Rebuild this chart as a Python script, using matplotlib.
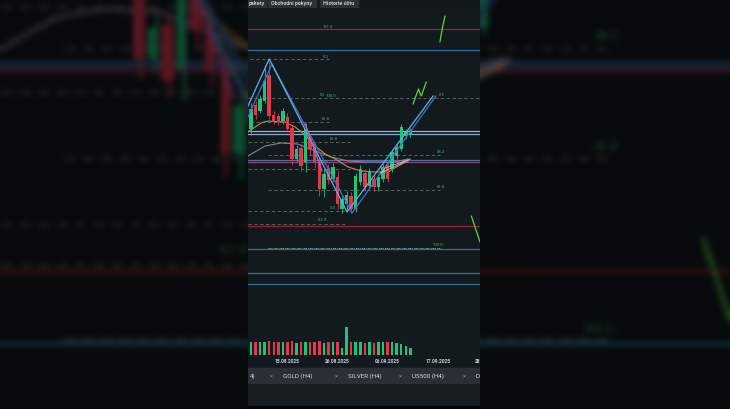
import numpy as np
import matplotlib
matplotlib.use("Agg")
import matplotlib.pyplot as plt
from matplotlib.patches import Rectangle
from matplotlib.transforms import blended_transform_factory

W, H = 730, 410
plt.rcParams['font.family'] = ['Roboto', 'DejaVu Sans']

# --- candles (4h bars) ---
opens  = [280, 304, 298, 308, 334, 294, 293, 288, 292, 281, 250, 261, 247, 270, 262, 247, 220, 241,
          230, 232, 200, 205, 213, 200, 227, 236, 223, 230, 222, 230, 244, 240, 253, 260, 273, 275]
closes = [300, 294, 310, 328, 293, 288, 287, 298, 280, 250, 260, 243, 280, 259, 247, 220, 235, 229,
          242, 205, 210, 214, 200, 233, 240, 222, 238, 222, 232, 242, 230, 257, 262, 282, 277, 279]
highs  = [306, 308, 314, 344, 348, 298, 296, 301, 296, 284, 264, 265, 286, 274, 266, 252, 240, 245,
          246, 238, 213, 218, 217, 236, 244, 240, 241, 234, 235, 245, 247, 260, 265, 285, 280, 281]
lows   = [274, 290, 296, 306, 290, 285, 284, 285, 277, 244, 247, 238, 237, 254, 242, 213, 212, 225,
          227, 200, 196, 198, 196, 197, 224, 218, 220, 218, 218, 227, 227, 237, 250, 258, 270, 272]
volumes = [14, 14, 14, 14, 15, 14, 14, 14, 14, 15, 13, 14, 14, 14, 14, 15, 13, 14,
           14, 14, 7, 30, 14, 14, 14, 13, 14, 13, 14, 14, 14, 14, 13, 12, 10, 7]

date_pos = [8, 19, 30, 41, 52]
date_labels = ["15.08.2025", "26.08.2025", "06.09.2025", "17.09.2025", "28.09.2025"]

# moving averages
ma_fast_x = [-0.7, 2.2, 3.7, 7.5, 9.7, 11.9, 14.1, 16.3, 18.5, 21.3, 24.2, 27.3, 30.1, 32.3, 34.5]
ma_fast_y = [277, 286, 288, 287, 282, 274, 263, 255, 250, 242, 238, 237, 237, 243, 248]
ma_slow_x = [-0.7, 3.1, 6.6, 10.3, 14.1, 17.6, 21.3, 25.1, 28.6, 31.6, 34.5]
ma_slow_y = [253, 263, 266, 265, 258, 252, 248, 247, 247, 247, 250]

# ABCD zigzag drawings
zig_a_x = [-0.66, 4.0, 21.1, 40.0]
zig_a_y = [303, 350, 197, 313]
zig_b_x = [-0.66, 4.6, 22.2, 40.6]
zig_b_y = [292, 345, 196, 313]
leg_x = [11.9, 15.6]
leg_y = [285, 238]
tri_x = [28.5, 35.0, 29.5, 28.5]
tri_y = [236, 250, 241, 236]

# hand drawn arrows
pen_strokes = [
    ([41.5, 42.0, 42.6], [367, 380, 393]),
    ([35.6, 36.3, 36.8, 37.1, 37.4, 37.8, 38.5], [305, 314, 320, 316, 313, 318, 327]),
    ([48.4, 50.3], [193, 167]),
]

# horizontal levels: (price, colour)
levels = [(380, '#9c2236'), (359, '#2c6e9c'), (278, '#a9a4da'), (275, '#86acd4'),
          (249, '#3978b2'), (247, '#a23a6c'), (183, '#9c2236'), (160, '#2c6e9c'),
          (136, '#2c6e9c'), (125, '#2c6e9c')]
# fibonacci dashed levels: (price, x from, x to)
fib_lines = [(350, -0.2, 17.4), (311, -0.7, 50.5), (287, -0.2, 17.4), (267, -0.7, 21.8),
             (254, 3.7, 41.5), (240, -0.7, 24.0), (219, 3.7, 41.5), (198, -0.7, 20.7),
             (185, -0.7, 20.7), (161, 3.7, 41.5)]
fib_text = [(16.9, 383, "161.8"), (16.3, 353, "0.0"), (15.6, 315, "50"), (17.6, 314, "100.0"),
            (41.8, 315, "0.5"), (16.5, 291, "61.8"), (18.2, 271, "61.8"), (41.8, 258, "38.2"),
            (15.8, 248, "100.0"), (41.8, 223, "61.8"), (18.0, 202, "0.0"), (15.6, 190, "161.8"),
            (41.1, 165, "100.0")]

top_tabs = [("pakety", 248, 266), ("Obchodní pokyny", 268, 316), ("Historie účtu", 320, 358)]
bottom_tabs = [("4)", 248, 277), ("GOLD (H4)", 278, 342), ("SILVER (H4)", 343, 406),
               ("US500 (H4)", 407, 470), ("D", 471, 490)]

GREEN = '#22c27c'
RED = '#e0384f'
PANEL = '#121a1e'


def rect(x0, y0, x1, y1):
    return [x0 / W, 1 - y1 / H, (x1 - x0) / W, (y1 - y0) / H]


fig = plt.figure(figsize=(7.3, 4.1), dpi=100, facecolor='#05080a')

# phone screen panel
panel = fig.add_axes(rect(248, 0, 480, 410), zorder=1)
panel.set_xlim(248, 480)
panel.set_ylim(410, 0)
panel.set_facecolor(PANEL)
panel.axis('off')
panel.add_patch(Rectangle((248, 0), 232, 410, color=PANEL, zorder=0))
panel.add_patch(Rectangle((248, 0), 232, 7.5, color='#11171b', zorder=1))
for name, x0, x1 in top_tabs:
    panel.add_patch(Rectangle((x0, 0), x1 - x0, 7.5, color='#2b3135', zorder=2))
    panel.text((x0 + x1) / 2, 3.6, name, color='#c4c8cc', fontsize=3.9, fontweight='bold',
               ha='center', va='center', zorder=3)
panel.add_patch(Rectangle((248, 368), 232, 17, color='#161b1f', zorder=1))
for name, x0, x1 in bottom_tabs:
    panel.add_patch(Rectangle((x0, 369), x1 - x0, 14.5, color='#2a3035', zorder=2))
    panel.text(x0 + 5 if x0 > 250 else 250, 376.5, name, color='#d6dadd', fontsize=4.5,
               ha='left', va='center', zorder=3)
    if x1 < 480:
        panel.text(x1 - 6, 376.5, "×", color='#8a9096', fontsize=4, ha='center', va='center', zorder=3)
panel.add_patch(Rectangle((248, 385), 232, 22, color='#181d21', zorder=1))
panel.add_patch(Rectangle((248, 407), 232, 3, color='#050607', zorder=1))

# price chart
ax = fig.add_axes(rect(248, 8, 480, 365), zorder=2)
ax.set_xlim(-0.66, 50.3)
ax.set_ylim(45, 402)
ax.patch.set_alpha(0)
ax.axis('off')

for p, c in levels:
    ax.axhline(p, color=c, lw=0.9, zorder=1)
for p, x0, x1 in fib_lines:
    ax.plot([x0, x1], [p, p], color='#5f7068', lw=0.6, ls=(0, (4, 3)), zorder=1)
ax.plot([3.7, 41.5], [161, 161], color='#9cc6e8', lw=0.5, ls=(0, (1, 2)), zorder=2)
for x, p, t in fib_text:
    ax.text(x, p, t, color='#4fae72', fontsize=3.0, ha='center', va='center', zorder=2)

ax.plot(ma_slow_x, ma_slow_y, color='#8c7f98', lw=0.8, zorder=2)
ax.plot(ma_fast_x, ma_fast_y, color='#c8884a', lw=0.8, zorder=2)

idx = np.arange(len(opens))
o, c_, h, l = map(np.array, (opens, closes, highs, lows))
up = c_ >= o
cols = np.where(up, GREEN, RED)
ax.vlines(idx, l, h, colors=cols, lw=0.6, zorder=3)
body = np.maximum(np.abs(c_ - o), 1.2)
ax.bar(idx, body, bottom=np.minimum(o, c_), width=0.76, color=cols, zorder=3)

ax.plot(zig_b_x, zig_b_y, color='#3f74c0', lw=0.9, zorder=4)
ax.plot(zig_a_x, zig_a_y, color='#5eb0e6', lw=0.9, zorder=4)
ax.plot(leg_x, leg_y, color='#c85aa8', lw=1.0, zorder=4)
ax.plot(tri_x, tri_y, color='#c8b4c4', lw=0.6, zorder=4)
for sx, sy in pen_strokes:
    ax.plot(sx, sy, color='#5fd23c', lw=0.9, solid_capstyle='round', zorder=5)

# volume
axv = fig.add_axes(rect(248, 322, 480, 356), zorder=2)
axv.set_xlim(-0.66, 50.3)
axv.set_ylim(0, 36)
axv.patch.set_alpha(0)
axv.axis('off')
axv.bar(idx, volumes, width=0.55, color=cols)

tr = blended_transform_factory(axv.transData, panel.transData)
for x, lab in zip(date_pos, date_labels):
    panel.text(x, 361.5, lab, transform=tr, color='#c9cdd1', fontsize=3.5, fontweight='bold',
               ha='center', va='center', clip_on=True, zorder=3)

# blurred, darkened close-up of the screen behind it
fig.canvas.draw()
img = np.asarray(fig.canvas.buffer_rgba())[:, :, :3].astype(float) / 255
s = W / 232.0
rows = np.clip((140 + np.arange(H) / s).astype(int), 0, H - 1)
cols_i = np.clip((248 + np.arange(W) / s).astype(int), 248, 479)
bg = img[rows][:, cols_i]


def box_blur(a, r, axis):
    k = 2 * r + 1
    pad = [(0, 0)] * 3
    pad[axis] = (r + 1, r)
    cs = np.cumsum(np.pad(a, pad, mode='edge'), axis=axis)
    n = a.shape[axis]
    return (np.take(cs, np.arange(k, k + n), axis=axis) - np.take(cs, np.arange(0, n), axis=axis)) / k


for _ in range(2):
    bg = box_blur(bg, 3, 0)
    bg = box_blur(bg, 3, 1)
bg = np.clip(bg * 0.4, 0, 1)

axbg = fig.add_axes([0, 0, 1, 1], zorder=-5)
axbg.imshow(bg, aspect='auto', interpolation='nearest')
axbg.axis('off')

fig.savefig("out.png", dpi=100, facecolor=fig.get_facecolor())
